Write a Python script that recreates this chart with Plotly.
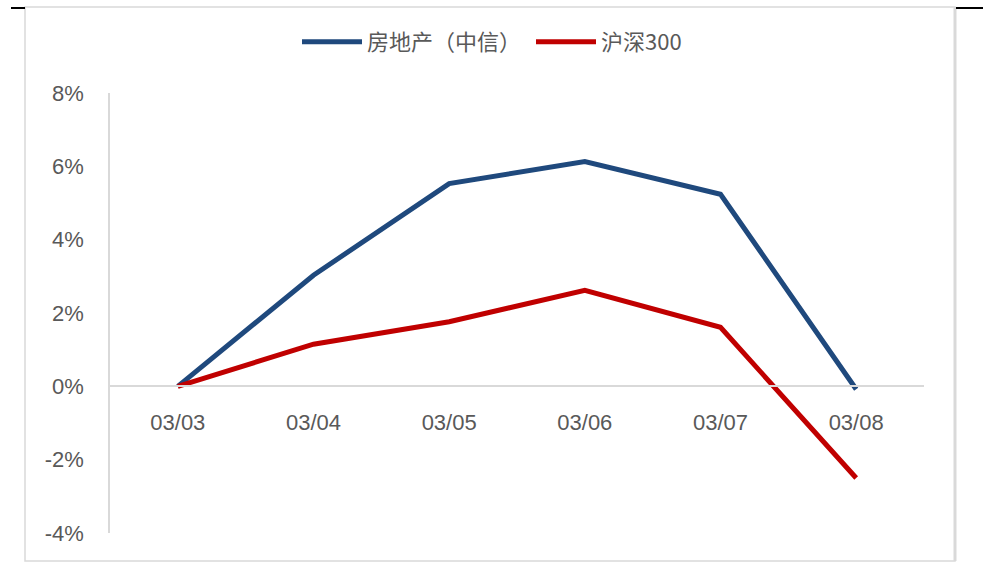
import plotly.graph_objects as go

categories = ["03/03", "03/04", "03/05", "03/06", "03/07", "03/08"]
real_estate = [0.0, 3.03, 5.53, 6.13, 5.24, -0.08]
hs300 = [0.0, 1.15, 1.76, 2.62, 1.61, -2.5]
series_names = ["房地产（中信）", "沪深300"]
ytick_vals = [-4, -2, 0, 2, 4, 6, 8]
ytick_text = ["-4%", "-2%", "0%", "2%", "4%", "6%", "8%"]

W, H = 983, 563
L, R, T, B = 110, 924, 93, 533


def px(x):
    return (x - L) / (R - L)


def py(y):
    return (B - y) / (B - T)


fig = go.Figure()
fig.add_trace(go.Scatter(x=categories, y=real_estate, name=series_names[0], mode="lines",
                         line=dict(color="#1F497D", width=5)))
fig.add_trace(go.Scatter(x=categories, y=hs300, name=series_names[1], mode="lines",
                         line=dict(color="#C00000", width=5)))

tick_font = dict(family="Liberation Sans, Arial", size=22, color="#595959")

fig.update_layout(
    width=W, height=H,
    margin=dict(l=L, r=W - R, t=T, b=H - B),
    paper_bgcolor="white", plot_bgcolor="white",
    showlegend=True,
    legend=dict(orientation="h", x=px(297), xanchor="left", y=py(42), yanchor="middle",
                font=dict(family="Noto Sans CJK SC", size=22, color="#595959"),
                itemwidth=60, entrywidth=159, traceorder="normal"),
    xaxis=dict(type="category", range=[-0.5, 5.5], showgrid=False, zeroline=False,
               showline=True, linecolor="#D9D9D9", linewidth=1.5,
               anchor="free", position=py(386), ticks="", ticklabelstandoff=17,
               tickfont=tick_font),
    yaxis=dict(range=[-4, 8], tickvals=ytick_vals, ticktext=ytick_text, showgrid=False,
               zeroline=False, showline=True, linecolor="#D9D9D9", linewidth=1.5,
               ticks="", ticklabelstandoff=20, tickfont=tick_font),
)

# outer border
fig.add_shape(type="rect", xref="paper", yref="paper",
              x0=px(25), x1=px(955), y0=py(561), y1=py(7),
              line=dict(color="#D9D9D9", width=1.5), layer="below")
fig.add_shape(type="line", xref="paper", yref="paper",
              x0=px(955), x1=px(955), y0=py(561), y1=py(7),
              line=dict(color="#D9D9D9", width=3))
# black corner marks
fig.add_shape(type="line", xref="paper", yref="paper",
              x0=px(11), x1=px(25), y0=py(8), y1=py(8),
              line=dict(color="black", width=2))
fig.add_shape(type="line", xref="paper", yref="paper",
              x0=px(956), x1=px(983), y0=py(8), y1=py(8),
              line=dict(color="black", width=2))

fig.write_html("out.html")
